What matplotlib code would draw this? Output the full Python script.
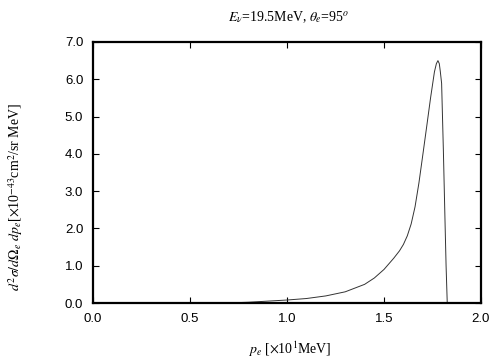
import matplotlib
matplotlib.use("Agg")
import matplotlib.pyplot as plt
from matplotlib.ticker import FormatStrFormatter, MultipleLocator

plt.rcParams['mathtext.fontset'] = 'stix'

p_e = [0.69, 0.80, 0.90, 1.00, 1.10, 1.20, 1.30, 1.40, 1.45, 1.50, 1.55, 1.58,
       1.60, 1.62, 1.64, 1.66, 1.68, 1.70, 1.72, 1.74, 1.75, 1.76, 1.77, 1.778,
       1.785, 1.79, 1.797, 1.806, 1.814, 1.820, 1.826]
xsec = [0.0, 0.02, 0.05, 0.08, 0.12, 0.19, 0.30, 0.50, 0.67, 0.90, 1.20, 1.40,
        1.57, 1.80, 2.12, 2.58, 3.22, 3.97, 4.73, 5.50, 5.85, 6.20, 6.42, 6.50,
        6.42, 6.22, 5.89, 4.10, 2.31, 1.00, 0.0]

title = r'$E_{\nu}$=19.5MeV, $\theta_e$=95$^{o}$'
xlabel = r'$p_e$ [$\times$10$^1$MeV]'
ylabel = r'$d^2\sigma/d\Omega_e\ dp_e$[$\times$10$^{-43}$cm$^2$/sr MeV]'

fig = plt.figure(figsize=(5.04, 3.6), dpi=100)
ax = fig.add_axes([93/504, 1 - 303/360, (481-93)/504, (303-42)/360])
ax.plot(p_e, xsec, color='#333333', lw=0.7)
ax.set_xlim(0, 2.0)
ax.set_ylim(0, 7.0)
ax.xaxis.set_major_locator(MultipleLocator(0.5))
ax.yaxis.set_major_locator(MultipleLocator(1.0))
ax.xaxis.set_major_formatter(FormatStrFormatter('%.1f'))
ax.yaxis.set_major_formatter(FormatStrFormatter('%.1f'))
ax.tick_params(direction='in', top=True, right=True, length=4, width=0.8,
               labelsize=9.5, pad=7)
for lab in ax.get_xticklabels() + ax.get_yticklabels():
    lab.set_fontfamily('Liberation Sans')
for s in ax.spines.values():
    s.set_linewidth(1.6)

fig.text(289/504, 1 - 17/360, title, ha='center', va='center',
         fontsize=10, family='Liberation Serif')
fig.text(290/504, 1 - 349/360, xlabel, ha='center', va='center',
         fontsize=10, family='Liberation Serif')
fig.text(16/504, 1 - 197/360, ylabel, ha='center', va='center', rotation=90,
         fontsize=10, family='Liberation Serif')

fig.savefig('out.png', dpi=100)
